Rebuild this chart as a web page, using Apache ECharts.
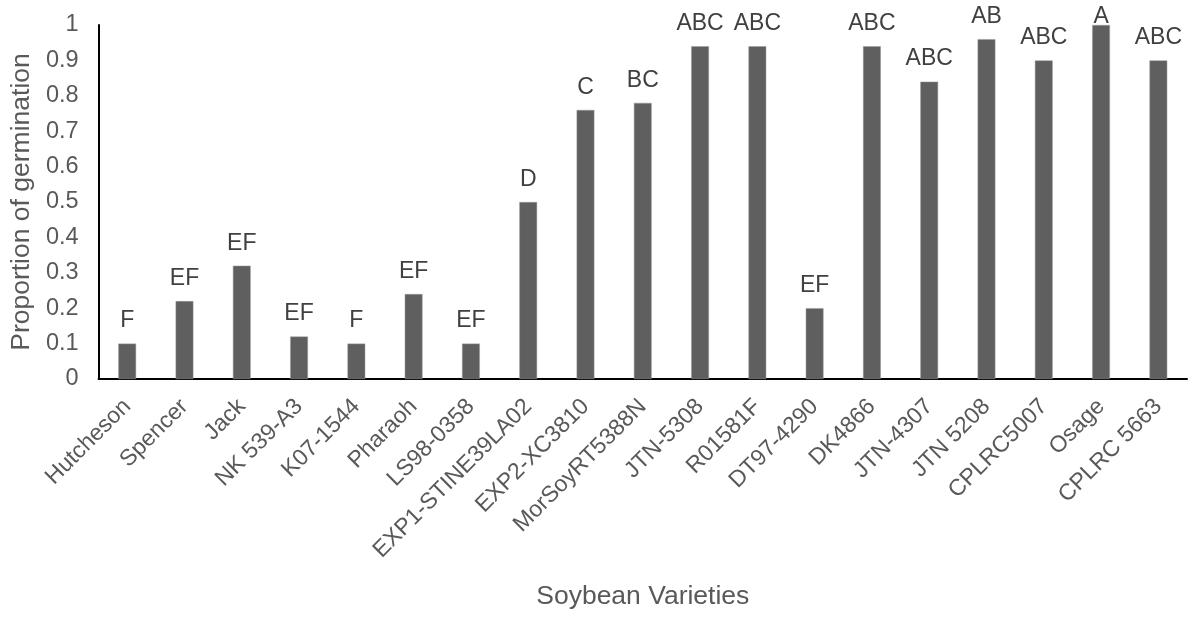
<!DOCTYPE html>
<html><head><meta charset="utf-8">
<script src="https://cdn.jsdelivr.net/npm/echarts@6/dist/echarts.min.js"></script>
<style>html,body{margin:0;padding:0;background:#fff}#c{width:1191px;height:617px}</style>
</head><body><div id="c"></div>
<script>
const categories = ["Hutcheson","Spencer","Jack","NK 539-A3","K07-1544","Pharaoh","LS98-0358","EXP1-STINE39LA02","EXP2-XC3810","MorSoyRT5388N","JTN-5308","R01581F","DT97-4290","DK4866","JTN-4307","JTN 5208","CPLRC5007","Osage","CPLRC 5663"];
const values = [0.1,0.22,0.32,0.12,0.1,0.24,0.1,0.5,0.76,0.78,0.94,0.94,0.2,0.94,0.84,0.96,0.9,1.0,0.9];
const letters = ["F","EF","EF","EF","F","EF","EF","D","C","BC","ABC","ABC","EF","ABC","ABC","AB","ABC","A","ABC"];
const yTicks = ["0","0.1","0.2","0.3","0.4","0.5","0.6","0.7","0.8","0.9","1"];
const chart = echarts.init(document.getElementById('c'), null, {renderer:'canvas'});
const font = 'Liberation Sans, Arial, sans-serif';
// labels that would run off the top are tucked in just above the bar
const data = values.map(v => v >= 0.99 ? {value:v, label:{distance:-3}} : v);
chart.setOption({
  animation:false,
  grid:{left:97,right:4,top:25,bottom:238,containLabel:false},
  xAxis:{type:'category',data:categories,
    axisLine:{lineStyle:{color:'#000',width:2}},axisTick:{show:false},
    axisLabel:{rotate:45,interval:0,color:'#595959',fontSize:23,fontFamily:font,margin:24},
    name:'Soybean Varieties',nameLocation:'middle',nameGap:204,
    nameTextStyle:{color:'#595959',fontSize:26.5,fontFamily:font}},
  yAxis:{type:'value',min:0,max:1,interval:0.1,
    axisLine:{show:true,lineStyle:{color:'#000',width:2}},axisTick:{show:false},splitLine:{show:false},
    axisLabel:{color:'#595959',fontSize:23.5,fontFamily:font,margin:20,formatter:(v,i)=>yTicks[i]},
    name:'Proportion of germination',nameLocation:'middle',nameGap:74,
    nameTextStyle:{color:'#595959',fontSize:26.5,fontFamily:font,verticalAlign:'middle'}},
  series:[{type:'bar',data:data,barWidth:'31%',
    itemStyle:{color:'#5f5f5f',borderColor:'#9a9a9a',borderWidth:0.5},
    label:{show:true,position:'top',distance:11,color:'#404040',fontSize:23,fontFamily:font,
      formatter:p=>letters[p.dataIndex]}}]
});
</script></body></html>
